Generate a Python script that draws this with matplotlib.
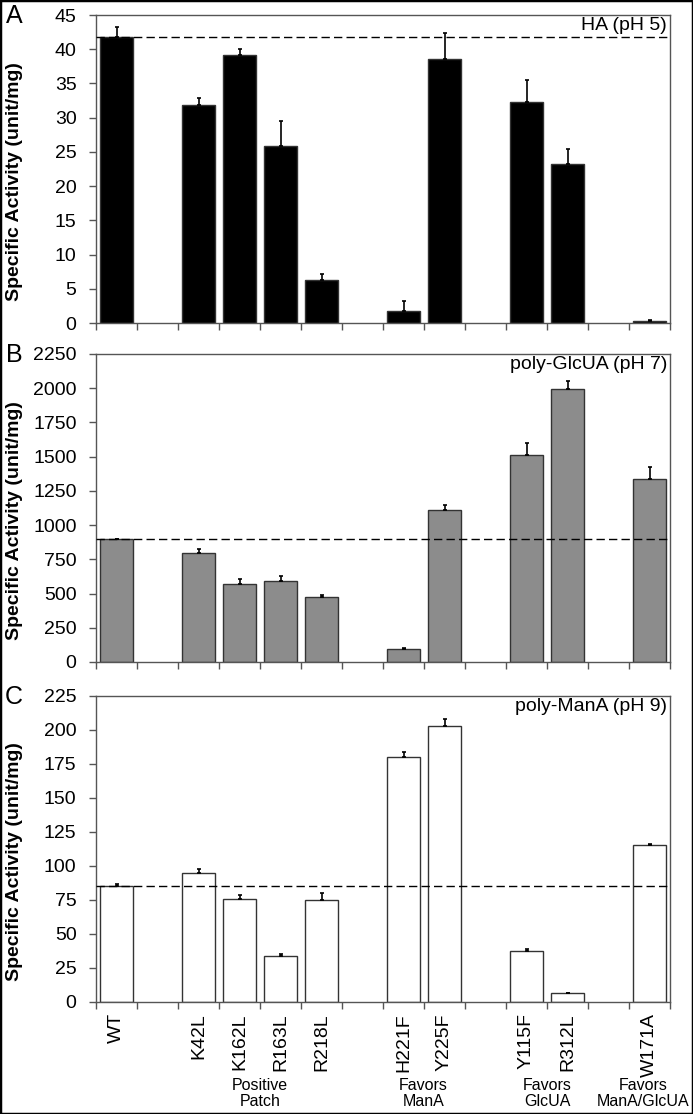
import numpy as np
import matplotlib
matplotlib.use("Agg")
import matplotlib.pyplot as plt
from matplotlib.patches import Rectangle

plt.rcParams['font.family'] = ['Liberation Sans', 'DejaVu Sans']

# categories (None = empty slot between groups)
slots = ['WT', None, 'K42L', 'K162L', 'R163L', 'R218L', None,
         'H221F', 'Y225F', None, 'Y115F', 'R312L', None, 'W171A']
mutants = [s for s in slots if s is not None]
pos = [i for i, s in enumerate(slots) if s is not None]

# values
ha_val = [41.8, 31.8, 39.1, 25.8, 6.3, 1.8, 38.6, 32.3, 23.2, 0.3]
ha_err = [1.5, 1.1, 1.0, 3.7, 0.9, 1.4, 3.8, 3.2, 2.2, 0.1]
glc_val = [896, 798, 570, 594, 477, 97, 1108, 1510, 1992, 1339]
glc_err = [5, 27, 34, 34, 12, 2, 37, 90, 60, 83]
man_val = [85, 95, 75.5, 34, 75.3, 180, 203, 37.7, 6.4, 115.2]
man_err = [1.5, 3, 3, 1, 4.5, 3.5, 5, 1, 0.3, 1]

groups = ['Positive\nPatch', 'Favors\nManA', 'Favors\nGlcUA', 'Favors\nManA/GlcUA']
group_x = [3.5, 7.48, 10.5, 12.84]

panels = [
    ('A', 'HA (pH 5)', ha_val, ha_err, 'black', 45, 5),
    ('B', 'poly-GlcUA (pH 7)', glc_val, glc_err, '#8c8c8c', 2250, 250),
    ('C', 'poly-ManA (pH 9)', man_val, man_err, 'white', 225, 25),
]

fig = plt.figure(figsize=(6.93, 11.14), dpi=100)
W, H = 693, 1114
boxes = [(15, 323), (354, 662), (696, 1002)]
left, right = 96, 670

edge = '#333333'
for (letter, title, vals, errs, color, ymax, step), (top, bot) in zip(panels, boxes):
    ax = fig.add_axes([left / W, 1 - bot / H, (right - left) / W, (bot - top) / H])
    ax.bar(pos, vals, width=0.8, color=color, edgecolor=edge, linewidth=1.0, zorder=2)
    ax.errorbar(pos, vals, yerr=[np.zeros(len(errs)), errs], fmt='none',
                ecolor='black', elinewidth=1.2, capsize=1.5, capthick=1.2, zorder=3)
    ax.axhline(vals[0], color='black', ls=(0, (6, 3)), lw=1.0, zorder=4)
    ax.set_xlim(-0.5, len(slots) - 0.5)
    ax.set_ylim(0, ymax)
    ax.set_yticks(np.arange(0, ymax + step / 2, step))
    ax.tick_params(axis='y', labelsize=14, length=5, width=1, color='#555555', pad=9)
    ax.set_xticks(np.arange(-0.5, len(slots), 1.0), minor=True)
    ax.tick_params(axis='x', which='minor', length=5, width=1, color='#555555', direction='out')
    ax.tick_params(axis='x', which='major', length=0)
    for sp in ax.spines.values():
        sp.set_color('#555555')
        sp.set_linewidth(1.0)
    ax.set_ylabel('Specific Activity (unit/mg)', fontsize=14, fontweight='bold')
    ax.yaxis.set_label_coords(-0.127, 0.46)
    ax.text(0.995, 0.992, title, transform=ax.transAxes, ha='right', va='top', fontsize=14)
    fig.text(14 / W, 1 - (top + 1) / H, letter, fontsize=18, ha='center', va='center')
    if letter == 'C':
        ax.set_xticks(pos)
        ax.set_xticklabels(mutants, rotation=90, fontsize=14)
        ax.tick_params(axis='x', which='major', pad=8)
    else:
        ax.set_xticks([])

for g, gx in zip(groups, group_x):
    xf = (left + (gx + 0.5) * (right - left) / len(slots)) / W
    fig.text(xf, 1 - 1078 / H, g, ha='center', va='top', fontsize=11.5, linespacing=1.1)

# outer frame
fig.patches.append(Rectangle((0, 0), 1, 1, transform=fig.transFigure, fill=False,
                             edgecolor='black', linewidth=2.5))

fig.savefig('out.png', dpi=100)
